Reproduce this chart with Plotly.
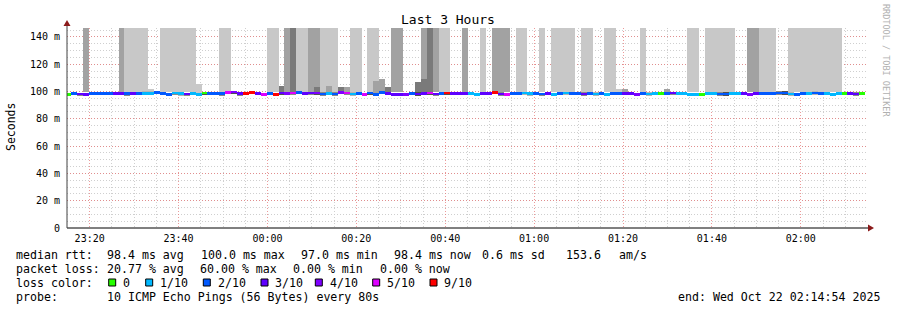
import pandas as pd
import plotly.graph_objects as go

# ---------------- data ----------------
END_TIME = "2025-10-22 02:14:54"
START_TIME = "2025-10-21 23:14:54"
FIRST_BIN = "2025-10-21 23:14:30"
STEP_S = 80
N_BINS = 135

median = [
    97.6, 98.6, 98.2, 97.8, 98.6, 98.6, 98.6, 98.6, 98.6, 98.6, 98.3, 98.3, 98.6, 98.6, 98.6,
    99.2, 98.3, 97.9, 98.8, 98.6, 98.2, 98.5, 98.0, 98.8, 98.5, 98.5, 98.5, 99.0, 99.6, 98.4,
    98.4, 99.4, 98.5, 97.9, 98.5, 98.0, 98.8, 98.6, 98.8, 99.4, 98.4, 98.8, 98.8, 98.2, 98.5,
    98.2, 99.3, 98.8, 98.2, 98.4, 97.9, 98.8, 98.0, 99.3, 98.6, 97.9, 97.9, 98.0, 98.6, 98.2,
    98.6, 98.8, 98.1, 98.4, 98.8, 98.6, 98.6, 98.4, 98.5, 98.0, 98.6, 98.6, 99.4, 98.2, 98.0,
    98.6, 98.6, 98.8, 98.4, 98.4, 98.2, 98.4, 97.8, 98.6, 98.8, 98.6, 98.4, 98.2, 98.6, 98.2,
    98.4, 98.0, 98.4, 98.6, 98.6, 98.4, 97.8, 98.6, 98.2, 98.4, 98.6, 98.6, 98.8, 98.6, 98.6,
    98.0, 98.0, 98.0, 98.6, 98.4, 98.2, 98.2, 98.6, 98.6, 98.6, 97.9, 98.5, 98.4, 98.6, 98.6,
    98.8, 98.8, 98.2, 98.0, 98.6, 98.6, 98.8, 98.4, 98.6, 98.0, 98.4, 98.6, 98.6, 98.1, 98.6,
]

loss = [
    0, 2, 3, 3, 2, 2, 2, 2, 3, 3, 2, 3, 2, 1, 1,
    2, 2, 2, 1, 1, 3, 1, 1, 0, 2, 2, 2, 5, 4, 3,
    9, 9, 3, 5, 2, 9, 3, 4, 5, 2, 3, 3, 4, 2, 1,
    2, 4, 5, 1, 2, 5, 2, 2, 2, 3, 3, 3, 4, 2, 3,
    3, 5, 3, 2, 9, 3, 3, 3, 1, 1, 3, 3, 9, 3, 5,
    2, 2, 1, 1, 2, 2, 3, 1, 2, 1, 2, 2, 3, 2, 1,
    2, 1, 2, 2, 3, 3, 4, 2, 1, 1, 0, 2, 3, 1, 1,
    1, 1, 0, 1, 1, 2, 2, 1, 1, 3, 4, 3, 2, 2, 2,
    2, 2, 1, 2, 2, 1, 2, 2, 1, 1, 1, 0, 3, 3, 0,
]

smoke_lo = [
    96.6, 97.4, 97.0, 96.8, 97.4, 97.2, 97.6, 97.4, 97.2, 97.4, 97.0, 97.2, 97.4, 97.2, 97.6,
    97.8, 97.2, 96.8, 97.4, 97.0, 97.0, 97.4, 97.0, 97.6, 97.2, 97.4, 97.0, 97.8, 98.0, 97.0,
    97.2, 98.0, 97.2, 96.8, 97.2, 96.8, 97.6, 97.4, 97.6, 98.0, 97.2, 97.6, 97.6, 97.0, 97.2,
    97.0, 98.0, 97.6, 97.0, 97.2, 96.8, 97.6, 96.8, 98.0, 97.2, 96.8, 96.8, 96.8, 97.4, 97.0,
    97.4, 97.6, 97.0, 97.2, 97.6, 97.4, 97.2, 97.2, 97.2, 96.8, 97.4, 97.2, 98.0, 97.0, 96.8,
    97.4, 97.2, 97.6, 97.0, 97.2, 97.0, 97.2, 96.6, 97.4, 97.6, 97.2, 97.2, 97.0, 97.4, 97.0,
    97.2, 96.8, 97.2, 97.4, 97.4, 97.2, 96.6, 97.4, 97.0, 97.2, 97.4, 97.4, 97.6, 97.4, 97.4,
    96.8, 96.8, 96.8, 97.4, 97.2, 97.0, 97.0, 97.4, 97.4, 97.4, 96.8, 97.2, 97.2, 97.4, 97.4,
    97.6, 97.6, 97.0, 96.8, 97.4, 97.4, 97.6, 97.2, 97.4, 96.8, 97.2, 97.4, 97.4, 97.0, 97.4,
]

smoke_hi = [
    98.8, 99.6, 99.2, 99.0, 99.6, 99.4, 99.8, 99.6, 99.6, 99.8, 99.4, 99.4, 99.6, 100.0, 100.2,
    100.2, 99.4, 99.0, 99.8, 99.6, 99.2, 99.6, 99.2, 99.8, 99.6, 99.6, 99.6, 100.0, 100.6, 99.4,
    99.6, 100.6, 99.6, 99.0, 99.6, 99.2, 99.8, 99.6, 99.8, 100.6, 99.4, 99.8, 99.8, 99.4, 99.6,
    99.4, 100.4, 99.8, 99.4, 99.6, 99.0, 99.8, 99.2, 100.4, 99.6, 99.0, 99.0, 99.2, 99.6, 99.4,
    99.8, 99.8, 99.2, 99.6, 99.8, 99.6, 99.6, 99.6, 99.6, 99.2, 99.6, 99.6, 100.4, 99.4, 99.2,
    99.6, 99.6, 99.8, 99.6, 99.4, 99.2, 99.6, 99.0, 99.6, 99.8, 99.6, 99.6, 99.4, 99.6, 99.4,
    99.6, 99.2, 99.6, 99.8, 99.6, 99.8, 99.0, 99.6, 99.4, 99.6, 99.6, 99.8, 99.8, 99.6, 99.6,
    99.2, 99.2, 99.2, 99.8, 99.6, 99.4, 99.4, 99.8, 99.8, 99.8, 99.0, 99.6, 99.6, 99.6, 99.8,
    100.0, 100.0, 99.4, 99.2, 99.8, 99.8, 100.0, 99.6, 99.8, 99.2, 99.6, 99.8, 99.8, 99.4, 99.8,
]

near_shade = [
    2, 3, 2, 3, 2, 2, 3, 2, 2, 3, 2, 2, 3, 1, 1,
    2, 3, 3, 2, 1, 2, 1, 1, 3, 2, 3, 2, 2, 3, 2,
    3, 3, 2, 2, 3, 2, 3, 2, 2, 3, 3, 2, 3, 2, 1,
    2, 3, 2, 1, 2, 2, 3, 2, 3, 2, 3, 3, 3, 2, 3,
    2, 3, 2, 2, 3, 2, 3, 3, 1, 1, 2, 2, 3, 2, 2,
    2, 2, 1, 1, 2, 2, 2, 1, 2, 1, 2, 2, 2, 2, 1,
    2, 1, 2, 3, 3, 2, 2, 2, 1, 1, 2, 2, 2, 1, 1,
    1, 1, 2, 1, 1, 2, 3, 1, 1, 2, 2, 3, 2, 2, 2,
    2, 3, 1, 2, 3, 2, 1, 2, 1, 1, 1, 2, 3, 2, 2,
]

# tall smoke (pings off the top of the graph)
tall_bins = [3, 9, 10, 11, 12, 13, 16, 17, 18, 19, 20, 21, 26, 27, 34, 35, 37, 38, 39, 40,
             41, 42, 43, 44, 45, 48, 49, 51, 52, 55, 56, 60, 61, 62, 63, 64, 67, 70, 72, 73,
             74, 76, 77, 80, 82, 83, 84, 85, 87, 88, 91, 92, 97, 105, 106, 108, 109, 110, 111, 112,
             115, 116, 117, 118, 119, 122, 123, 124, 125, 126, 127, 128, 129, 130]
tall_shade = [2, 2, 1, 1, 1, 1, 1, 1, 1, 1, 1, 1, 1, 1, 1, 1, 2, 3, 1, 1,
              2, 2, 1, 1, 1, 1, 1, 1, 1, 2, 2, 2, 3, 2, 1, 1, 2, 1, 2, 2,
              2, 1, 1, 1, 1, 1, 1, 1, 1, 1, 1, 1, 1, 1, 1, 1, 1, 1, 1, 1,
              2, 2, 1, 1, 1, 1, 1, 1, 1, 1, 1, 1, 1, 1]
TALL_TOP = 200.0
SMOKE_BASE = 99.5

# short smoke bumps
bump_bins = [14, 22, 36, 42, 44, 46, 47, 52, 53, 54, 59, 60, 93, 94, 101]
bump_top = [101.5, 105.4, 103.7, 103.0, 104.0, 103.0, 103.0, 108.0, 109.0, 103.5, 106.6, 109.0, 101.5, 102.0, 102.0]
bump_shade = [1, 1, 3, 3, 2, 3, 2, 2, 2, 3, 3, 3, 1, 2, 2]

y_tick_vals = [0, 20, 40, 60, 80, 100, 120, 140]
y_tick_text = ["0", "20 m", "40 m", "60 m", "80 m", "100 m", "120 m", "140 m"]
Y_MAX = 146.5

loss_legend_vals = [0, 1, 2, 3, 4, 5, 9]
loss_legend_text = ["0", "1/10", "2/10", "3/10", "4/10", "5/10", "9/10"]

# ---------------- styles ----------------
LOSS_COLORS = {0: "#26ff00", 1: "#00b8ff", 2: "#0059ff", 3: "#5e00ff",
               4: "#7e00ff", 5: "#dd00ff", 9: "#ff0000"}
TALL_COLORS = {1: "#c8c8c8", 2: "#a2a2a2", 3: "#7a7a7a"}
NEAR_COLORS = {1: "#b4b4b4", 2: "#8a8a8a", 3: "#505050"}
MONO = "DejaVu Sans Mono"

W, H = 897, 310
PL, PR, PT, PB = 67, 867, 28, 228


def px(x):
    return (x - PL) / (PR - PL)


def py(y):
    return (PB - y) / (PB - PT)


bin_start = pd.date_range(FIRST_BIN, periods=N_BINS, freq=f"{STEP_S}s")
centers = bin_start + pd.Timedelta(seconds=STEP_S / 2)
WIDTH_MS = STEP_S * 1000

fig = go.Figure()

# tall smoke
fig.add_trace(go.Bar(
    x=[centers[k] for k in tall_bins],
    base=[SMOKE_BASE] * len(tall_bins),
    y=[TALL_TOP - SMOKE_BASE] * len(tall_bins),
    width=[WIDTH_MS] * len(tall_bins),
    marker=dict(color=[TALL_COLORS[s] for s in tall_shade], line=dict(width=0)),
    hoverinfo="skip", showlegend=False,
))
# short bumps
fig.add_trace(go.Bar(
    x=[centers[k] for k in bump_bins],
    base=[99.0] * len(bump_bins),
    y=[t - 99.0 for t in bump_top],
    width=[WIDTH_MS] * len(bump_bins),
    marker=dict(color=[TALL_COLORS[s] for s in bump_shade], line=dict(width=0)),
    hoverinfo="skip", showlegend=False,
))
# near smoke around median
fig.add_trace(go.Bar(
    x=list(centers),
    base=smoke_lo,
    y=[h - l for h, l in zip(smoke_hi, smoke_lo)],
    width=[WIDTH_MS] * N_BINS,
    marker=dict(color=[NEAR_COLORS[s] for s in near_shade], line=dict(width=0)),
    hoverinfo="skip", showlegend=False,
))
# median line coloured by loss
fig.add_trace(go.Bar(
    x=list(centers),
    base=[m - 1.0 for m in median],
    y=[2.0] * N_BINS,
    width=[WIDTH_MS] * N_BINS,
    marker=dict(color=[LOSS_COLORS[l] for l in loss], line=dict(width=0)),
    hoverinfo="skip", showlegend=False,
))

shapes = []
# axis lines
shapes.append(dict(type="line", xref="paper", yref="paper", x0=px(PL), x1=px(869), y0=0, y1=0,
                   line=dict(color="#000000", width=1)))
shapes.append(dict(type="line", xref="paper", yref="paper", x0=0, x1=0, y0=0, y1=py(23),
                   line=dict(color="#404040", width=1)))
# arrows
shapes.append(dict(type="path", xref="paper", yref="paper",
                   path=f"M {px(868)} {py(224.5)} L {px(874)} {py(228)} L {px(868)} {py(231.5)} Z",
                   fillcolor="#8b1a1a", line=dict(width=0)))
shapes.append(dict(type="path", xref="paper", yref="paper",
                   path=f"M {px(63.5)} {py(26)} L {px(67)} {py(20)} L {px(70.5)} {py(26)} Z",
                   fillcolor="#8b1a1a", line=dict(width=0)))

annotations = []
annotations.append(dict(text="Last 3 Hours", x=px(448), y=py(20), xref="paper", yref="paper",
                        showarrow=False, xanchor="center", yanchor="middle",
                        font=dict(family=MONO, size=13, color="#000000")))
annotations.append(dict(text="Seconds", x=px(11), y=py(127), xref="paper", yref="paper",
                        showarrow=False, textangle=-90, xanchor="center", yanchor="middle",
                        font=dict(family=MONO, size=11.5, color="#000000")))
annotations.append(dict(text="RRDTOOL / TOBI OETIKER", x=px(886), y=py(60), xref="paper", yref="paper",
                        showarrow=False, textangle=90, xanchor="center", yanchor="middle",
                        font=dict(family=MONO, size=8.5, color="#b0b0b0")))


def txt(s, x, y, anchor="left"):
    annotations.append(dict(text=s, x=px(x), y=py(y), xref="paper", yref="paper",
                            showarrow=False, xanchor=anchor, yanchor="middle",
                            borderpad=0, borderwidth=0,
                            font=dict(family=MONO, size=11.6, color="#000000")))


row1 = [("median rtt:", 16), ("98.4 ms avg", 107), ("100.0 ms max", 201), ("97.0 ms min", 301),
        ("98.4 ms now", 394), ("0.6 ms sd", 482), ("153.6", 566), ("am/s", 619)]
row2 = [("packet loss:", 16), ("20.77 % avg", 107), ("60.00 % max", 200), ("0.00 % min", 293),
        ("0.00 % now", 380)]
for s, x in row1:
    txt(s, x, 254.5)
for s, x in row2:
    txt(s, x, 268.5)
txt("loss color:", 16, 282.5)
box_left = [108.7, 145.7, 203.3, 261, 315.3, 372.7, 430]
for v, lab, bx in zip(loss_legend_vals, loss_legend_text, box_left):
    shapes.append(dict(type="rect", xref="paper", yref="paper",
                       x0=px(bx), x1=px(bx + 7), y0=py(286), y1=py(279),
                       fillcolor=LOSS_COLORS[v], line=dict(color="#000000", width=1)))
    txt(lab, bx + 14.3, 282.5)
txt("probe:", 16, 296.5)
txt("10 ICMP Echo Pings (56 Bytes) every 80s", 107, 296.5)
txt("end: Wed Oct 22 02:14:54 2025", 880, 296.5, anchor="right")

fig.update_layout(
    width=W, height=H,
    margin=dict(l=PL, r=W - PR, t=PT, b=H - PB, pad=0),
    paper_bgcolor="#ffffff", plot_bgcolor="#ffffff",
    barmode="overlay", bargap=0,
    showlegend=False,
    shapes=shapes, annotations=annotations,
    xaxis=dict(
        type="date", range=[START_TIME, END_TIME],
        dtick=20 * 60 * 1000, tick0="2025-10-21 23:20:00", tickformat="%H:%M",
        showgrid=True, gridcolor="rgba(230,120,120,0.75)", griddash="1px,2px", gridwidth=1,
        minor=dict(dtick=5 * 60 * 1000, tick0="2025-10-21 23:20:00", showgrid=True,
                   gridcolor="#cfcfcf", griddash="1px,2px", gridwidth=1),
        showline=False, zeroline=False, ticks="", ticklabelstandoff=3,
        tickfont=dict(family=MONO, size=10, color="#000000"),
    ),
    yaxis=dict(
        range=[0, Y_MAX], tickvals=y_tick_vals, ticktext=y_tick_text,
        showgrid=True, gridcolor="rgba(230,120,120,0.75)", griddash="1px,2px", gridwidth=1,
        minor=dict(dtick=5, tick0=0, showgrid=True, gridcolor="#cfcfcf",
                   griddash="1px,2px", gridwidth=1),
        showline=False, zeroline=False, ticks="", ticklabelstandoff=6,
        tickfont=dict(family=MONO, size=10, color="#000000"),
    ),
)

fig.write_html("out.html")
